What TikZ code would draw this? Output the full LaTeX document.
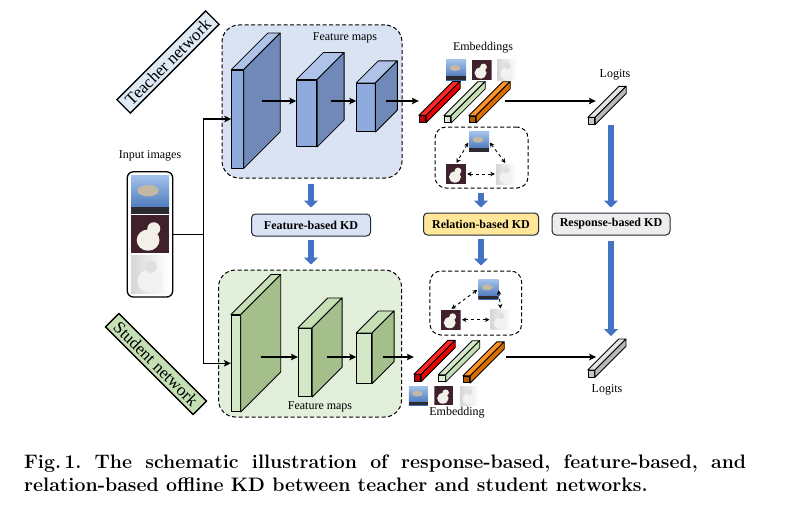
\documentclass[tikz,border=0pt]{standalone}
\usepackage{fontspec}
\newfontfamily\timesfont{Liberation Serif}
\usepackage{tikz}
\usetikzlibrary{positioning,fit,calc,arrows.meta}
\definecolor{tpanelcol}{HTML}{DAE3F3}
\definecolor{spanelcol}{HTML}{E2EFDA}
\definecolor{tlabcol}{HTML}{DEEBF7}
\definecolor{slabcol}{HTML}{C5E0B4}
\definecolor{tfrontcol}{HTML}{8FAADC}
\definecolor{ttopcol}{HTML}{AFC3E8}
\definecolor{tsidecol}{HTML}{7089B8}
\definecolor{sfrontcol}{HTML}{D3E8C6}
\definecolor{stopcol}{HTML}{C5E0B4}
\definecolor{ssidecol}{HTML}{A5BF8C}
\definecolor{kdblue}{HTML}{4472C4}
\definecolor{kdborder}{HTML}{222A35}
\definecolor{relcol}{HTML}{FFE699}
\definecolor{respcol}{HTML}{EDEDED}
\definecolor{birdtop}{HTML}{A3C2EA}
\definecolor{birdbot}{HTML}{3F6DB5}
\definecolor{birdbody}{HTML}{C4B8A4}
\definecolor{rockcol}{HTML}{2B2A30}
\definecolor{dogbg}{HTML}{40202C}
\definecolor{dogfur}{HTML}{F3F0EA}
\definecolor{catbg}{HTML}{D6D6D6}
\definecolor{catfur}{HTML}{F2F2F2}
\tikzset{
	kd figure/.style={
		x=1pt,y=-1pt,
		lbl/.style={
			inner sep=0pt,
			font=\timesfont\fontsize{12}{14}\selectfont
		},
		flow/.style={
			line width=1.5pt,
			-{Stealth[length=7pt,width=6.5pt,inset=1.5pt]}
		},
		kd arrow/.style={
			draw=kdblue,
			line width=6pt,
			-{Triangle[length=7pt,width=14pt]}
		},
		rel arrow/.style={
			dashed,
			line width=0.9pt,
			{Stealth[length=4.5pt,width=4.5pt]}-{Stealth[length=4.5pt,width=4.5pt]},
			shorten <=1pt,
			shorten >=1pt
		}
	},
	panel/.style={
		rectangle,
		draw,
		dashed,
		dash pattern=on 4pt off 2.5pt,
		line width=1pt,
		rounded corners=17pt
	},
	relbox/.style={
		panel,
		fill=white,
		rounded corners=11pt
	},
	netlabel/.style={
		rectangle,
		draw,
		line width=1.3pt,
		inner xsep=6pt,
		inner ysep=3.5pt,
		font=\timesfont\fontsize{17}{19}\selectfont
	},
	kdbox/.style={
		rectangle,
		draw=kdborder,
		line width=1pt,
		rounded corners=4pt,
		minimum height=22pt,
		font=\timesfont\bfseries\fontsize{12}{14}\selectfont
	},
	inbox/.style={
		rectangle,
		draw,
		line width=1.3pt,
		rounded corners=6pt
	}
}
\tikzset{
	face/.style={
		draw=black,
		line width=0.8pt,
		line join=round,
		inner sep=0pt
	},
	teach front/.style={face,fill=tfrontcol},
	teach top/.style={face,fill=ttopcol},
	teach side/.style={face,fill=tsidecol},
	stud front/.style={face,fill=sfrontcol},
	stud top/.style={face,fill=stopcol},
	stud side/.style={face,fill=ssidecol},
	red front/.style={face,fill=red!75!black,minimum size=6.5pt},
	red top/.style={face,fill=red!85!white},
	red side/.style={face,fill=red!92!black},
	green front/.style={face,fill=stopcol!60!white,minimum size=6.5pt},
	green top/.style={face,fill=stopcol!70!white},
	green side/.style={face,fill=stopcol},
	orange front/.style={face,fill=orange!70!black,minimum size=6.5pt},
	orange top/.style={face,fill=orange!85!white},
	orange side/.style={face,fill=orange!85!black},
	grey front/.style={face,fill=black!22,minimum size=6.5pt},
	grey top/.style={face,fill=black!10},
	grey side/.style={face,fill=black!28}
}
\tikzset{
	photo/.style={
		inner sep=0pt,
		minimum size=#1pt
	},
	bird/.style={
		photo=#1,
		path picture={
			\shade[top color=birdtop,bottom color=birdbot] (path picture bounding box.south west) rectangle (path picture bounding box.north east);
			\fill[birdbody] ($(path picture bounding box.center)+(-0.05*#1,-0.1*#1)$) ellipse [x radius={0.28*#1pt}, y radius={0.15*#1pt}];
			\fill[rockcol] (path picture bounding box.south west) rectangle ($(path picture bounding box.south east)+(0,-0.18*#1)$);
		}
	},
	dog/.style={
		photo=#1,
		path picture={
			\fill[dogbg] (path picture bounding box.south west) rectangle (path picture bounding box.north east);
			\fill[dogfur] ($(path picture bounding box.center)+(-0.05*#1,0.15*#1)$) ellipse [x radius={0.3*#1pt}, y radius={0.28*#1pt}];
			\fill[dogfur] ($(path picture bounding box.center)+(0.1*#1,-0.15*#1)$) circle [radius={0.17*#1pt}];
		}
	},
	cat/.style={
		photo=#1,
		path picture={
			\shade[left color=catbg,right color=white] (path picture bounding box.south west) rectangle (path picture bounding box.north east);
			\fill[catfur] ($(path picture bounding box.center)+(0,0.18*#1)$) ellipse [x radius={0.33*#1pt}, y radius={0.3*#1pt}];
			\fill[catfur!92!black] ($(path picture bounding box.center)+(0.02*#1,-0.2*#1)$) circle [radius={0.16*#1pt}];
		}
	}
}
\newcommand{\extrude}[3]{% front node, depth, colour set
	\filldraw[#3 top] (#1.north west) -- ++(#2,-#2) -- ($(#1.north east)+(#2,-#2)$) -- (#1.north east) -- cycle;
	\filldraw[#3 side] (#1.north east) -- ++(#2,-#2) -- ($(#1.south east)+(#2,-#2)$) -- (#1.south east) -- cycle;
	\coordinate (#1-mid) at ($(#1.east)+(#2/2,0)$);
	\coordinate (#1-back) at ($(#1.north east)+(#2,-#2)$);
}
\begin{document}
\frenchspacing
\begin{tikzpicture}[kd figure]
	\useasboundingbox (0,0) rectangle (803,519);
	\coordinate (trow) at (0,101);
	\coordinate (srow) at (0,357);
	% panels
	\node[panel, fill=tpanelcol, minimum width=180pt, minimum height=153pt] (tpanel) at (312,101.5) {};
	\node[panel, fill=spanelcol, minimum width=183pt, minimum height=147pt] (spanel) at (310,343.5) {};
	\node[lbl] (tfm) at (345,38) {Feature maps};
	\node[lbl] (sfm) at (320,407) {Feature maps};
	\node[netlabel, fill=tlabcol, rotate=45] (tnet) at (168,62) {Teacher network};
	\node[netlabel, fill=slabcol, rotate=-45] (snet) at (156,364) {Student network};
	% input images
	\node[bird=38] (ibird) at (150,194.5) {};
	\node[dog=38, below=1.5pt of ibird] (idog) {};
	\node[cat=38, below=1.5pt of idog] (icat) {};
	\node[inbox, fit=(ibird)(idog)(icat), inner sep=3.5pt] (inbox) {};
	\node[lbl, above=10pt of inbox] (inlbl) {Input images};
	% teacher feature maps
	\node[teach front, minimum width=11.6pt, minimum height=98pt] (t1) at (237.5,119) {};
	\extrude{t1}{36.5}{teach}
	\node[teach front, minimum width=20pt, minimum height=66.7pt] (t2) at (306.7,113.3) {};
	\extrude{t2}{27}{teach}
	\node[teach front, minimum width=18.3pt, minimum height=48.4pt] (t3) at (365.8,107.5) {};
	\extrude{t3}{22}{teach}
	% student feature maps
	\node[stud front, minimum width=9pt, minimum height=96.7pt] (s1) at (235.8,363.3) {};
	\extrude{s1}{40}{stud}
	\node[stud front, minimum width=13.4pt, minimum height=68.4pt] (s2) at (305,362.5) {};
	\extrude{s2}{30}{stud}
	\node[stud front, minimum width=15pt, minimum height=50pt] (s3) at (364.2,358.3) {};
	\extrude{s3}{22}{stud}
	% embeddings and logits
	\node[red front] (tred) at (422.5,119) {};
	\extrude{tred}{34}{red}
	\node[green front] (tgreen) at (447.5,119.3) {};
	\extrude{tgreen}{34}{green}
	\node[orange front] (torange) at (472.5,119.3) {};
	\extrude{torange}{34}{orange}
	\node[grey front] (tlogit) at (591.5,121) {};
	\extrude{tlogit}{31}{grey}
	\node[red front] (sred) at (417.5,378) {};
	\extrude{sred}{34}{red}
	\node[green front] (sgreen) at (442,378.3) {};
	\extrude{sgreen}{34}{green}
	\node[orange front] (sorange) at (466.5,379.5) {};
	\extrude{sorange}{34}{orange}
	\node[grey front] (slogit) at (591.3,373.7) {};
	\extrude{slogit}{31}{grey}
	\node[bird=20] (tebird) at (456,70) {};
	\node[dog=20] (tedog) at (481.5,70) {};
	\node[cat=20] (tecat) at (507,70) {};
	\node[lbl] (temb) at (483,48) {Embeddings};
	\node[lbl] (tlog) at (615,75) {Logits};
	\node[bird=19] (sebird) at (418.3,395.5) {};
	\node[dog=19] (sedog) at (443.8,395.5) {};
	\node[cat=19] (secat) at (469.3,395.5) {};
	\node[lbl] (semb) at (457,413) {Embedding};
	\node[lbl] (slog) at (607,390) {Logits};
	% relations
	\node[relbox, minimum width=93pt, minimum height=61pt] (trel) at (481.5,157.5) {};
	\node[bird=20] (trbird) at (479,141.7) {};
	\node[dog=20] (trdog) at (456,174) {};
	\node[cat=20] (trcat) at (506,174) {};
	\draw[rel arrow] (trbird.west) -- (trdog.north);
	\draw[rel arrow] (trbird.east) -- (trcat.north);
	\draw[rel arrow] (trdog.east) -- (trcat.west);
	\node[relbox, minimum width=91.7pt, minimum height=64pt] (srel) at (475.8,303) {};
	\node[bird=20] (srbird) at (488.3,289.3) {};
	\node[dog=20] (srdog) at (450.7,319.7) {};
	\node[cat=20] (srcat) at (500.7,319.7) {};
	\draw[rel arrow] (srbird.west) -- (srdog.north);
	\draw[rel arrow] (srbird.east) -- (srcat.north);
	\draw[rel arrow] (srdog.east) -- (srcat.west);
	% KD boxes
	\node[kdbox, fill=tpanelcol, minimum width=119pt] (fkd) at (311,225) {Feature-based KD};
	\node[kdbox, fill=relcol, minimum width=115pt] (rkd) at (481,224) {Relation-based KD};
	\node[kdbox, fill=respcol, minimum width=118pt] (respkd) at (611,224) {Response-based KD};
	% connectors
	\coordinate (split) at ($(inbox.east)+(30,0)$);
	\draw[line width=1.5pt] (inbox.east) -- (split);
	\draw[flow] (split) |- (t1.west);
	\draw[flow] (split) |- (s1.west);
	\draw[flow] (t1-mid |- trow) -- (t2.west |- trow);
	\draw[flow] (t2-mid |- trow) -- (t3.west |- trow);
	\draw[flow] (t3-mid |- trow) -- (tred.west |- trow);
	\draw[flow] ($(torange.east |- trow)+(29,0)$) -- ($(tlogit.west |- trow)+(8,0)$);
	\draw[flow] (s1-mid |- srow) -- (s2.west |- srow);
	\draw[flow] (s2-mid |- srow) -- (s3.west |- srow);
	\draw[flow] (s3-mid |- srow) -- (sred.west |- srow);
	\draw[flow] ($(sorange.east |- srow)+(36,0)$) -- ($(slogit.west |- srow)+(8.5,0)$);
	\draw[kd arrow, shorten <=5pt, shorten >=6pt] (fkd.north |- tpanel.south) -- (fkd.north);
	\draw[kd arrow, shorten <=3pt, shorten >=5pt] (fkd.south) -- (fkd.south |- spanel.north);
	\draw[kd arrow, shorten <=4pt, shorten >=5pt] (rkd.north |- trel.south) -- (rkd.north);
	\draw[kd arrow, shorten <=3pt, shorten >=5pt] (rkd.south) -- (rkd.south |- srel.north);
	\draw[kd arrow, shorten >=5pt] (respkd.north |- tlogit.south) -- (respkd.north);
	\draw[kd arrow, shorten <=5pt, shorten >=3pt] (respkd.south) -- (respkd.south |- slogit-back);
	% caption
	\node[anchor=base west, inner sep=0pt, font=\bfseries\fontsize{19.5}{24}\selectfont] (cap1) at (24,468) {\makebox[722pt][s]{Fig.\,1.\ The schematic illustration of response-based, feature-based, and}};
	\node[anchor=base west, inner sep=0pt, font=\bfseries\fontsize{19.5}{24}\selectfont] (cap2) at ($(cap1.base west)+(0,23.5)$) {relation-based offline KD between teacher and student networks.};
\end{tikzpicture}
\end{document}
